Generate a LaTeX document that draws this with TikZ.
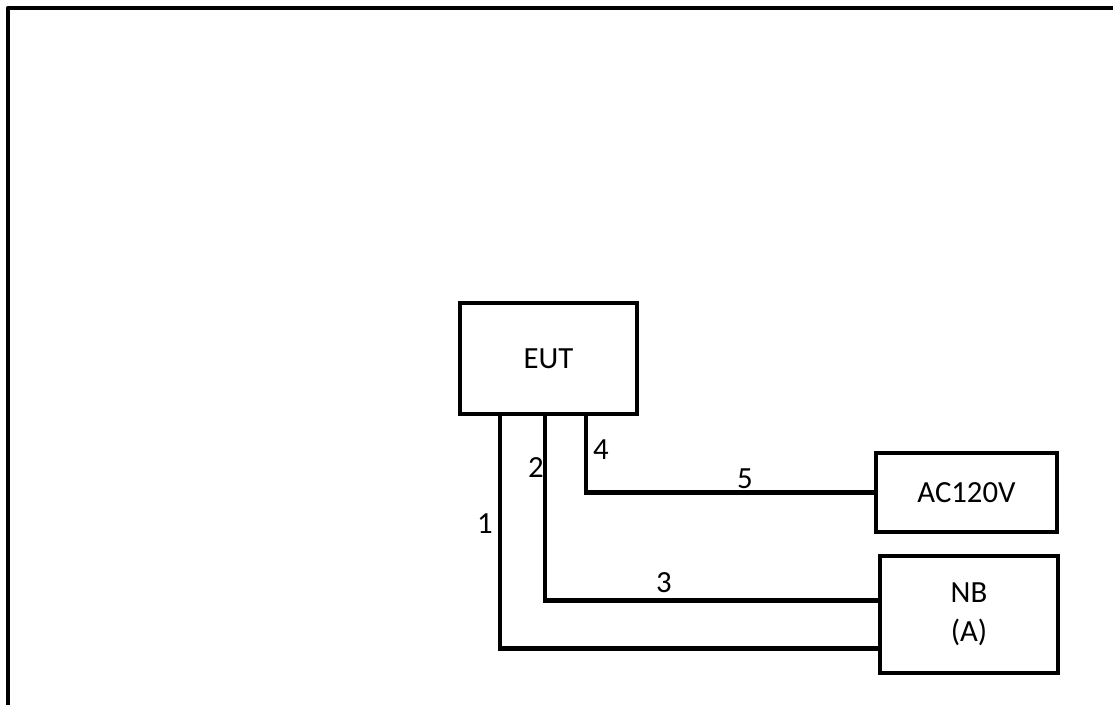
\documentclass[tikz,border=0pt]{standalone}
\usepackage{fontspec}
\setmainfont{Carlito}
\usepackage{tikz}
\usetikzlibrary{calc,positioning}

\begin{document}
\begin{tikzpicture}[x=0.02cm,y=-0.02cm,
    unit/.style={draw,line width=2.5pt,rectangle,align=center,
      font=\fontsize{17.5}{22}\selectfont},
    wire/.style={line width=2.5pt},
    tag/.style={font=\fontsize{17.5}{21}\selectfont,inner sep=1pt}]
  \useasboundingbox (0,0) rectangle (1113,705);
  % frame
  \draw[line width=2.6pt,line join=round] (8,705) -- (8,8) -- (1113,8);
  % boxes
  \node[unit,minimum width=3.54cm,minimum height=2.22cm] (eut) at (548.5,358.5) {EUT};
  \node[unit,minimum width=3.62cm,minimum height=1.58cm] (ac) at (966.5,492.5) {AC120V};
  \node[unit,minimum width=3.56cm,minimum height=2.34cm] (nb) at (969,614.5) {NB\\(A)};
  % wires
  \draw[wire] ($(eut.south west)+(42,0)$) |- ($(nb.west)+(0,34)$);
  \draw[wire] ($(eut.south west)+(87,0)$) |- ($(nb.west)+(0,-14)$);
  \draw[wire] ($(eut.south west)+(128,0)$) |- (ac.west);
  % labels
  \node[tag] (l1) at (485,524) {1};
  \node[tag] (l2) at (536,468) {2};
  \node[tag] (l3) at (664,583) {3};
  \node[tag] (l4) at (601,450) {4};
  \node[tag] (l5) at (745,479) {5};
\end{tikzpicture}
\end{document}
